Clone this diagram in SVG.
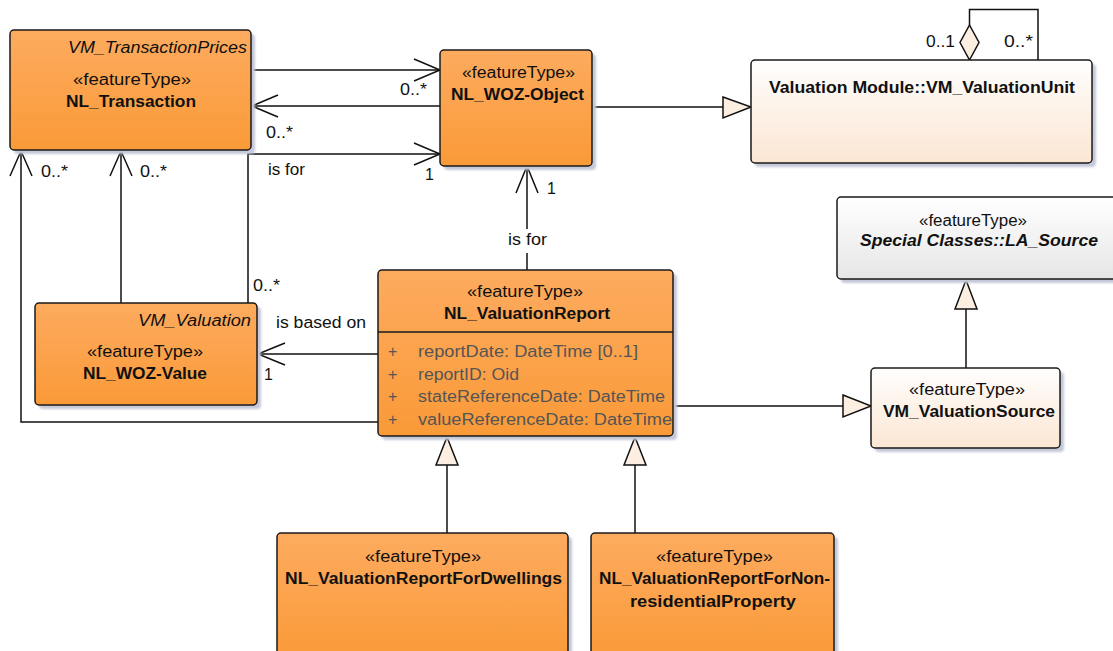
<svg xmlns="http://www.w3.org/2000/svg" width="1113" height="651" viewBox="0 0 1113 651">
<style>
text{font-family:"Liberation Sans",Arial,sans-serif;font-size:16px;fill:#111}
.b{font-weight:bold}
.i{font-style:italic}
.attr{fill:#555}
.box{stroke:#1a1a1a;stroke-width:1.5}
.sh{fill:#c4c8d8}
.ln{fill:none;stroke:#111;stroke-width:1.5}
.tri{fill:#fcefe2;stroke:#111;stroke-width:1.5;stroke-linejoin:miter}
</style>
<defs>
<linearGradient id="og" x1="0" y1="0" x2="0" y2="1"><stop offset="0" stop-color="#fdab5f"/><stop offset="1" stop-color="#fa9a38"/></linearGradient>
<linearGradient id="cg" x1="0" y1="0" x2="0" y2="1"><stop offset="0" stop-color="#fffefd"/><stop offset="1" stop-color="#fbe6d3"/></linearGradient>
<linearGradient id="gg" x1="0" y1="0" x2="0" y2="1"><stop offset="0" stop-color="#ffffff"/><stop offset="1" stop-color="#e6e6e6"/></linearGradient>
<filter id="bl" x="-5%" y="-5%" width="110%" height="110%"><feGaussianBlur stdDeviation="1"/></filter>
</defs>
<rect width="1113" height="651" fill="#fff"/>

<g id="connectors">
<line class="ln" x1="251" y1="70" x2="440" y2="70"/>
<polyline class="ln" points="414,59 440,70 414,81"/>
<line class="ln" x1="440" y1="106" x2="252" y2="106"/>
<polyline class="ln" points="278,95 252,106 278,117"/>
<polyline class="ln" points="248,303 248,154 440,154"/>
<polyline class="ln" points="414,143 440,154 414,165"/>
<line class="ln" x1="121" y1="303" x2="121" y2="151"/>
<polyline class="ln" points="110,176 121,151 132,176"/>
<polyline class="ln" points="378,422 21,422 21,151"/>
<polyline class="ln" points="10,176 21,151 32,176"/>
<line class="ln" x1="378" y1="354" x2="258" y2="354"/>
<polyline class="ln" points="285,343 258,354 285,365"/>
<line class="ln" x1="527" y1="270" x2="527" y2="166"/>
<polyline class="ln" points="516,193 527,166 538,193"/>
<line class="ln" x1="592" y1="107" x2="723" y2="107"/>
<polygon class="tri" points="723,97 751,107 723,118"/>
<polyline class="ln" points="969.5,25 969.5,9.5 1038,9.5 1038,60"/>
<polygon class="tri" points="969.5,60 979,42.5 969.5,25 960,42.5"/>
<line class="ln" x1="673" y1="406" x2="843" y2="406"/>
<polygon class="tri" points="843,395 871,406 843,417"/>
<line class="ln" x1="966" y1="368" x2="966" y2="309"/>
<polygon class="tri" points="955,309 966,280 977,309"/>
<line class="ln" x1="447" y1="533" x2="447" y2="465"/>
<polygon class="tri" points="436,465 447,437 458,465"/>
<line class="ln" x1="635" y1="533" x2="635" y2="465"/>
<polygon class="tri" points="624,465 635,437 646,465"/>
<rect x="505" y="229" width="46" height="24" fill="#fff"/>
<text x="400" y="95" textLength="27" lengthAdjust="spacingAndGlyphs">0..*</text>
<text x="266" y="138" textLength="27" lengthAdjust="spacingAndGlyphs">0..*</text>
<text x="268" y="175" textLength="37" lengthAdjust="spacingAndGlyphs">is for</text>
<text x="425" y="180">1</text>
<text x="41" y="177" textLength="27" lengthAdjust="spacingAndGlyphs">0..*</text>
<text x="140" y="177" textLength="27" lengthAdjust="spacingAndGlyphs">0..*</text>
<text x="253" y="291" textLength="27" lengthAdjust="spacingAndGlyphs">0..*</text>
<text x="276" y="328" textLength="90" lengthAdjust="spacingAndGlyphs">is based on</text>
<text x="264" y="380">1</text>
<text x="547" y="194">1</text>
<text x="508" y="245" textLength="39" lengthAdjust="spacingAndGlyphs">is for</text>
<text x="926" y="47" textLength="29" lengthAdjust="spacingAndGlyphs">0..1</text>
<text x="1004" y="47" textLength="29" lengthAdjust="spacingAndGlyphs">0..*</text>
</g>

<g id="NL_Transaction">
<rect class="sh" x="14" y="34" width="241" height="120" rx="4" filter="url(#bl)"/>
<rect class="box" x="10" y="30" width="241" height="120" rx="4" fill="url(#og)"/>
<text class="i" x="68" y="53" textLength="179" lengthAdjust="spacingAndGlyphs">VM_TransactionPrices</text>
<text x="73" y="85" textLength="118" lengthAdjust="spacingAndGlyphs">«featureType»</text>
<text class="b" x="66" y="107" textLength="130" lengthAdjust="spacingAndGlyphs">NL_Transaction</text>
</g>

<g id="NL_WOZ-Object">
<rect class="sh" x="444" y="54" width="152" height="116" rx="4" filter="url(#bl)"/>
<rect class="box" x="440" y="50" width="152" height="116" rx="4" fill="url(#og)"/>
<text x="462" y="78" textLength="113" lengthAdjust="spacingAndGlyphs">«featureType»</text>
<text class="b" x="451" y="100" textLength="133" lengthAdjust="spacingAndGlyphs">NL_WOZ-Object</text>
</g>

<g id="VM_ValuationUnit">
<rect class="sh" x="755" y="64" width="341" height="103" rx="4" filter="url(#bl)"/>
<rect class="box" x="751" y="60" width="341" height="103" rx="4" fill="url(#cg)"/>
<text class="b" x="769" y="93" textLength="306" lengthAdjust="spacingAndGlyphs">Valuation Module::VM_ValuationUnit</text>
</g>

<g id="LA_Source">
<rect class="sh" x="841" y="201" width="290" height="82" rx="4" filter="url(#bl)"/>
<rect class="box" x="837" y="197" width="290" height="82" rx="4" fill="url(#gg)"/>
<text x="919" y="226" textLength="108" lengthAdjust="spacingAndGlyphs">«featureType»</text>
<text class="b i" x="860" y="246" textLength="238" lengthAdjust="spacingAndGlyphs">Special Classes::LA_Source</text>
</g>

<g id="VM_ValuationSource">
<rect class="sh" x="875" y="372" width="189" height="80" rx="4" filter="url(#bl)"/>
<rect class="box" x="871" y="368" width="189" height="80" rx="4" fill="url(#cg)"/>
<text x="909" y="395" textLength="116" lengthAdjust="spacingAndGlyphs">«featureType»</text>
<text class="b" x="883" y="417" textLength="172" lengthAdjust="spacingAndGlyphs">VM_ValuationSource</text>
</g>

<g id="NL_WOZ-Value">
<rect class="sh" x="39" y="307" width="222" height="102" rx="4" filter="url(#bl)"/>
<rect class="box" x="35" y="303" width="222" height="102" rx="4" fill="url(#og)"/>
<text class="i" x="138" y="326" textLength="113" lengthAdjust="spacingAndGlyphs">VM_Valuation</text>
<text x="87" y="357" textLength="116" lengthAdjust="spacingAndGlyphs">«featureType»</text>
<text class="b" x="83" y="379" textLength="124" lengthAdjust="spacingAndGlyphs">NL_WOZ-Value</text>
</g>

<g id="NL_ValuationReport">
<rect class="sh" x="382" y="274" width="295" height="166" rx="4" filter="url(#bl)"/>
<rect class="box" x="378" y="270" width="295" height="166" rx="4" fill="url(#og)"/>
<line class="box" x1="378" y1="332" x2="673" y2="332"/>
<text x="467" y="297" textLength="116" lengthAdjust="spacingAndGlyphs">«featureType»</text>
<text class="b" x="444" y="319" textLength="166" lengthAdjust="spacingAndGlyphs">NL_ValuationReport</text>
<text class="attr" x="388" y="357">+</text>
<text class="attr" x="418" y="357" textLength="220" lengthAdjust="spacingAndGlyphs">reportDate: DateTime [0..1]</text>
<text class="attr" x="388" y="380">+</text>
<text class="attr" x="418" y="380" textLength="101" lengthAdjust="spacingAndGlyphs">reportID: Oid</text>
<text class="attr" x="388" y="402">+</text>
<text class="attr" x="418" y="402" textLength="247" lengthAdjust="spacingAndGlyphs">stateReferenceDate: DateTime</text>
<text class="attr" x="388" y="425">+</text>
<text class="attr" x="418" y="425" textLength="254" lengthAdjust="spacingAndGlyphs">valueReferenceDate: DateTime</text>
</g>

<g id="NL_ValuationReportForDwellings">
<rect class="sh" x="281" y="537" width="291" height="130" rx="4" filter="url(#bl)"/>
<rect class="box" x="277" y="533" width="291" height="130" rx="4" fill="url(#og)"/>
<text x="365" y="562" textLength="116" lengthAdjust="spacingAndGlyphs">«featureType»</text>
<text class="b" x="285" y="584" textLength="277" lengthAdjust="spacingAndGlyphs">NL_ValuationReportForDwellings</text>
</g>

<g id="NL_ValuationReportForNon-residentialProperty">
<rect class="sh" x="595" y="537" width="243" height="130" rx="4" filter="url(#bl)"/>
<rect class="box" x="591" y="533" width="243" height="130" rx="4" fill="url(#og)"/>
<text x="656" y="562" textLength="117" lengthAdjust="spacingAndGlyphs">«featureType»</text>
<text class="b" x="599" y="584" textLength="231" lengthAdjust="spacingAndGlyphs">NL_ValuationReportForNon-</text>
<text class="b" x="630" y="607" textLength="166" lengthAdjust="spacingAndGlyphs">residentialProperty</text>
</g>
</svg>
